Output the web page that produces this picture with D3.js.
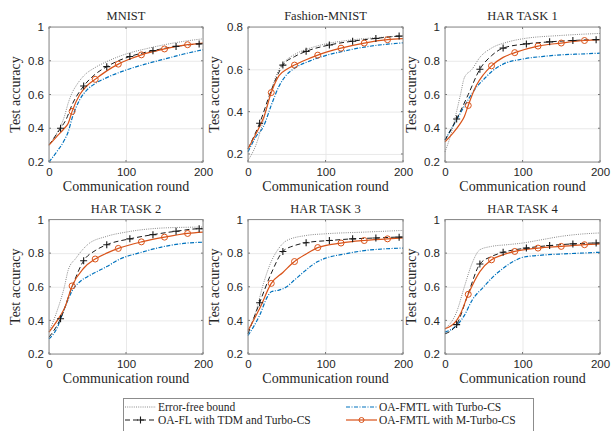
<!DOCTYPE html>
<html>
<head>
<meta charset="utf-8">
<script src="https://cdn.jsdelivr.net/npm/d3@7"></script>
<style>
  html, body { margin: 0; padding: 0; background: #fff; }
  svg { display: block; }
  .tick text { font-family: "Liberation Sans", Arial, sans-serif; font-size: 11.5px; fill: #262626; }
  .serif { font-family: "Liberation Serif", "Times New Roman", serif; fill: #262626; }
</style>
</head>
<body>
<svg id="chart" width="616" height="431"></svg>
<script>
// Rounds at which each marker style is drawn
const plusRounds = [15, 45, 75, 105, 135, 165, 195];
const circleRounds = [30, 60, 90, 120, 150, 180];
const xTicks = [0, 100, 200];

// Series: [communication round, test accuracy]
const mnistBound  = [[0,0.30],[10,0.37],[20,0.47],[25,0.55],[30,0.61],[35,0.65],[45,0.71],[60,0.76],[75,0.795],[100,0.84],[125,0.87],[150,0.895],[175,0.915],[200,0.93]];
const mnistFL     = [[0,0.30],[15,0.40],[22,0.45],[30,0.54],[45,0.65],[60,0.72],[75,0.765],[90,0.80],[105,0.825],[135,0.86],[165,0.885],[195,0.90],[200,0.902]];
const mnistMTurbo = [[0,0.30],[10,0.35],[20,0.40],[25,0.43],[30,0.50],[40,0.60],[50,0.655],[60,0.69],[75,0.74],[90,0.78],[105,0.81],[120,0.835],[150,0.87],[180,0.895],[200,0.905]];
const mnistTurbo  = [[0,0.20],[10,0.26],[20,0.33],[25,0.38],[30,0.46],[40,0.57],[50,0.63],[60,0.665],[75,0.70],[100,0.745],[125,0.78],[150,0.81],[175,0.84],[200,0.865]];

const fashionBound  = [[0,0.17],[10,0.24],[20,0.36],[30,0.50],[40,0.60],[50,0.645],[60,0.67],[80,0.70],[100,0.72],[125,0.735],[150,0.745],[175,0.752],[200,0.758]];
const fashionFL     = [[0,0.225],[15,0.345],[30,0.50],[45,0.62],[60,0.66],[75,0.685],[105,0.715],[135,0.733],[165,0.746],[195,0.757],[200,0.758]];
const fashionMTurbo = [[0,0.225],[15,0.33],[20,0.37],[30,0.49],[40,0.57],[50,0.60],[60,0.62],[75,0.645],[90,0.667],[120,0.70],[150,0.724],[180,0.74],[200,0.745]];
const fashionTurbo  = [[0,0.21],[10,0.28],[20,0.33],[30,0.43],[40,0.52],[50,0.575],[60,0.605],[80,0.64],[100,0.665],[125,0.687],[150,0.705],[175,0.717],[200,0.725]];

const har1Bound  = [[0,0.26],[8,0.37],[15,0.50],[20,0.60],[25,0.70],[35,0.75],[45,0.82],[60,0.875],[80,0.91],[100,0.93],[150,0.95],[200,0.962]];
const har1FL     = [[0,0.33],[15,0.455],[30,0.60],[45,0.75],[60,0.83],[75,0.875],[105,0.90],[135,0.912],[165,0.92],[195,0.925],[200,0.925]];
const har1MTurbo = [[0,0.32],[10,0.37],[20,0.43],[25,0.47],[30,0.535],[40,0.65],[50,0.72],[60,0.77],[75,0.82],[90,0.848],[120,0.887],[150,0.905],[180,0.92],[200,0.925]];
const har1Turbo  = [[0,0.33],[15,0.45],[30,0.57],[40,0.64],[50,0.69],[60,0.735],[75,0.78],[100,0.81],[125,0.825],[150,0.835],[175,0.84],[200,0.845]];

const har2Bound  = [[0,0.33],[10,0.45],[20,0.60],[25,0.70],[35,0.77],[50,0.85],[75,0.90],[100,0.925],[150,0.95],[200,0.955]];
const har2FL     = [[0,0.30],[15,0.41],[30,0.60],[45,0.755],[60,0.815],[75,0.85],[105,0.885],[135,0.91],[165,0.93],[195,0.945],[200,0.945]];
const har2MTurbo = [[0,0.33],[15,0.43],[20,0.47],[30,0.605],[45,0.71],[60,0.765],[75,0.80],[90,0.828],[120,0.867],[150,0.895],[180,0.917],[200,0.925]];
const har2Turbo  = [[0,0.29],[10,0.35],[20,0.47],[30,0.575],[40,0.63],[50,0.66],[60,0.685],[75,0.72],[90,0.76],[120,0.805],[150,0.84],[175,0.858],[200,0.865]];

const har3Bound  = [[0,0.33],[10,0.45],[20,0.62],[30,0.75],[40,0.83],[50,0.875],[75,0.905],[100,0.915],[150,0.925],[200,0.935]];
const har3FL     = [[0,0.32],[15,0.505],[30,0.68],[45,0.81],[60,0.845],[75,0.862],[105,0.875],[135,0.885],[165,0.89],[195,0.895],[200,0.895]];
const har3MTurbo = [[0,0.34],[15,0.47],[30,0.62],[45,0.685],[60,0.75],[75,0.795],[90,0.833],[120,0.86],[150,0.875],[180,0.885],[200,0.89]];
const har3Turbo  = [[0,0.31],[15,0.43],[25,0.54],[30,0.57],[40,0.58],[50,0.60],[60,0.64],[75,0.70],[90,0.75],[100,0.77],[125,0.795],[150,0.815],[175,0.825],[200,0.83]];

const har4Bound  = [[0,0.35],[15,0.45],[25,0.60],[35,0.74],[45,0.82],[60,0.84],[80,0.85],[100,0.86],[125,0.88],[150,0.90],[175,0.913],[200,0.92]];
const har4FL     = [[0,0.32],[15,0.375],[30,0.56],[45,0.735],[60,0.78],[75,0.805],[105,0.83],[135,0.845],[165,0.855],[195,0.86],[200,0.86]];
const har4MTurbo = [[0,0.35],[15,0.40],[20,0.44],[30,0.555],[45,0.69],[60,0.76],[75,0.79],[90,0.81],[120,0.83],[150,0.84],[180,0.85],[200,0.855]];
const har4Turbo  = [[0,0.33],[15,0.37],[25,0.43],[35,0.52],[50,0.60],[60,0.65],[75,0.71],[90,0.755],[100,0.775],[125,0.788],[150,0.795],[175,0.80],[200,0.805]];

const titles = ["MNIST", "Fashion-MNIST", "HAR TASK 1", "HAR TASK 2", "HAR TASK 3", "HAR TASK 4"];
const yTicksFull = [0.2, 0.4, 0.6, 0.8, 1];
const yTicksFashion = [0.2, 0.4, 0.6, 0.8];
const legendLabels = ["Error-free bound", "OA-FL with TDM and Turbo-CS", "OA-FMTL with Turbo-CS", "OA-FMTL with M-Turbo-CS"];

const panels = [
  { title: titles[0], yDomain: [0.2, 1], yTicks: yTicksFull, bound: mnistBound, fl: mnistFL, mturbo: mnistMTurbo, turbo: mnistTurbo },
  { title: titles[1], yDomain: [0.162, 0.8], yTicks: yTicksFashion, bound: fashionBound, fl: fashionFL, mturbo: fashionMTurbo, turbo: fashionTurbo },
  { title: titles[2], yDomain: [0.2, 1], yTicks: yTicksFull, bound: har1Bound, fl: har1FL, mturbo: har1MTurbo, turbo: har1Turbo },
  { title: titles[3], yDomain: [0.2, 1], yTicks: yTicksFull, bound: har2Bound, fl: har2FL, mturbo: har2MTurbo, turbo: har2Turbo },
  { title: titles[4], yDomain: [0.2, 1], yTicks: yTicksFull, bound: har3Bound, fl: har3FL, mturbo: har3MTurbo, turbo: har3Turbo },
  { title: titles[5], yDomain: [0.2, 1], yTicks: yTicksFull, bound: har4Bound, fl: har4FL, mturbo: har4MTurbo, turbo: har4Turbo }
];

// Layout of the 2x3 grid
const colX = [[49, 203], [248, 403], [445, 600]];
const rowY = [[27, 162], [219.5, 354]];

const COLORS = { bound: "#8a8a8a", fl: "#1a1a1a", turbo: "#0072BD", mturbo: "#D95319" };
const svg = d3.select("#chart");

function fmtY(v) { return v === 1 ? "1" : d3.format(".1f")(v); }

panels.forEach((p, i) => {
  const col = i % 3, row = Math.floor(i / 3);
  const [x0, x1] = colX[col];
  const [y0, y1] = rowY[row];
  const x = d3.scaleLinear().domain([0, 200]).range([x0, x1]);
  const y = d3.scaleLinear().domain(p.yDomain).range([y1, y0]);
  const g = svg.append("g");

  // grid + tick labels
  const xAxis = g.append("g").attr("transform", `translate(0,${y1})`)
    .call(d3.axisBottom(x).tickValues(xTicks).tickSize(-(y1 - y0)).tickPadding(6).tickFormat(d3.format("d")));
  const yAxis = g.append("g").attr("transform", `translate(${x0},0)`)
    .call(d3.axisLeft(y).tickValues(p.yTicks).tickSize(-(x1 - x0)).tickPadding(5).tickFormat(fmtY));
  [xAxis, yAxis].forEach(a => {
    a.select(".domain").remove();
    a.selectAll(".tick line").attr("stroke", "#e3e3e3").attr("stroke-width", 0.8);
  });

  // inward tick marks
  xTicks.forEach(t => {
    g.append("line").attr("x1", x(t)).attr("x2", x(t)).attr("y1", y1).attr("y2", y1 - 2).attr("stroke", "#777");
    g.append("line").attr("x1", x(t)).attr("x2", x(t)).attr("y1", y0).attr("y2", y0 + 2).attr("stroke", "#777");
  });
  p.yTicks.forEach(t => {
    g.append("line").attr("x1", x0).attr("x2", x0 + 2).attr("y1", y(t)).attr("y2", y(t)).attr("stroke", "#777");
    g.append("line").attr("x1", x1).attr("x2", x1 - 2).attr("y1", y(t)).attr("y2", y(t)).attr("stroke", "#777");
  });

  const line = d3.line().x(d => x(d[0])).y(d => y(d[1])).curve(d3.curveMonotoneX);

  g.append("path").datum(p.turbo).attr("d", line).attr("fill", "none")
    .attr("stroke", COLORS.turbo).attr("stroke-width", 1.2).attr("stroke-dasharray", "4,1.5,1,1.5");
  g.append("path").datum(p.bound).attr("d", line).attr("fill", "none")
    .attr("stroke", COLORS.bound).attr("stroke-width", 1).attr("stroke-dasharray", "1,1.2");
  g.append("path").datum(p.fl).attr("d", line).attr("fill", "none")
    .attr("stroke", COLORS.fl).attr("stroke-width", 1).attr("stroke-dasharray", "5,3");
  g.append("path").datum(p.mturbo).attr("d", line).attr("fill", "none")
    .attr("stroke", COLORS.mturbo).attr("stroke-width", 1.2);

  // markers
  const plusPts = p.fl.filter(d => plusRounds.includes(d[0]));
  g.selectAll(null).data(plusPts).enter().append("path")
    .attr("d", d => `M${x(d[0]) - 3.5},${y(d[1])}h7M${x(d[0])},${y(d[1]) - 3.5}v7`)
    .attr("stroke", COLORS.fl).attr("stroke-width", 1.1);
  const circPts = p.mturbo.filter(d => circleRounds.includes(d[0]));
  g.selectAll(null).data(circPts).enter().append("circle")
    .attr("cx", d => x(d[0])).attr("cy", d => y(d[1])).attr("r", 3)
    .attr("fill", "none").attr("stroke", COLORS.mturbo).attr("stroke-width", 1);

  // frame
  g.append("rect").attr("x", x0).attr("y", y0).attr("width", x1 - x0).attr("height", y1 - y0)
    .attr("fill", "none").attr("stroke", "#8c8c8c").attr("stroke-width", 1);

  // labels
  g.append("text").attr("class", "serif").attr("x", (x0 + x1) / 2).attr("y", y0 - 7)
    .attr("text-anchor", "middle").attr("font-size", 12.5).text(p.title);
  g.append("text").attr("class", "serif").attr("x", (x0 + x1) / 2).attr("y", y1 + 29)
    .attr("text-anchor", "middle").attr("font-size", 14).text("Communication round");
  g.append("text").attr("class", "serif")
    .attr("transform", `translate(${x0 - 29},${(y0 + y1) / 2}) rotate(-90)`)
    .attr("text-anchor", "middle").attr("font-size", 14).text("Test accuracy");
});

// legend
const lg = svg.append("g");
lg.append("rect").attr("x", 123.5).attr("y", 398.5).attr("width", 410).attr("height", 36)
  .attr("fill", "#fff").attr("stroke", "#8c8c8c");
const legendItems = [
  { key: "bound", label: legendLabels[0], x: 125, y: 407, dash: "1,1.2", marker: null },
  { key: "fl", label: legendLabels[1], x: 125, y: 420, dash: "5,3", marker: "plus" },
  { key: "turbo", label: legendLabels[2], x: 346, y: 407, dash: "4,1.5,1,1.5", marker: null },
  { key: "mturbo", label: legendLabels[3], x: 346, y: 420, dash: null, marker: "circle" }
];
legendItems.forEach(it => {
  const l = lg.append("line").attr("x1", it.x).attr("x2", it.x + 31).attr("y1", it.y).attr("y2", it.y)
    .attr("stroke", COLORS[it.key]).attr("stroke-width", it.key === "mturbo" || it.key === "turbo" ? 1.2 : 1);
  if (it.dash) l.attr("stroke-dasharray", it.dash);
  const cx = it.x + 15.5;
  if (it.marker === "plus") {
    lg.append("path").attr("d", `M${cx - 3.5},${it.y}h7M${cx},${it.y - 3.5}v7`).attr("stroke", COLORS.fl).attr("stroke-width", 1.1);
  } else if (it.marker === "circle") {
    lg.append("circle").attr("cx", cx).attr("cy", it.y).attr("r", 2.5).attr("fill", "none").attr("stroke", COLORS.mturbo);
  }
  lg.append("text").attr("class", "serif").attr("x", it.x + 33).attr("y", it.y + 4)
    .attr("font-size", 11.5).text(it.label);
});
</script>
</body>
</html>
